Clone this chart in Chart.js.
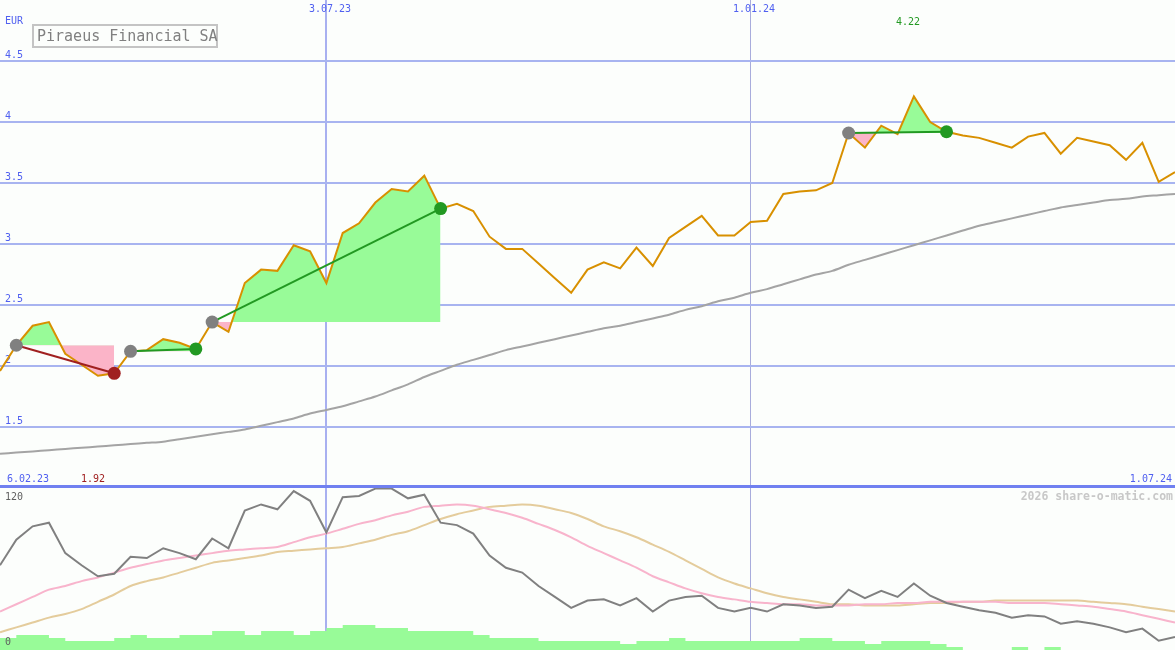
<!DOCTYPE html>
<html>
<head>
<meta charset="utf-8">
<script src="https://cdn.jsdelivr.net/npm/chart.js@4.4.1/dist/chart.umd.min.js"></script>
<style>
  body { margin: 0; background: #fcfefc; }
  #wrap { position: relative; width: 1175px; height: 650px; overflow: hidden; background: #fcfefc; font-family: 'DejaVu Sans Mono', monospace; }
  canvas { position: absolute; left: 0; }
  #priceChart { top: 0; }
  #oscChart { top: 488px; }
  .lbl { position: absolute; font-size: 10px; line-height: 12px; height: 12px; white-space: nowrap; color: #5060f0; }
  .mid { transform: translateX(-50%); }
  .right { transform: translateX(-100%); }
  #title { position: absolute; left: 32px; top: 24px; width: 186px; height: 24px; box-sizing: border-box; border: 2px solid #c4c4c4; color: #808080; font-size: 15px; line-height: 20px; padding-left: 3px; white-space: nowrap; }
</style>
</head>
<body>
<div id="wrap">
  <canvas id="priceChart" width="1175" height="488"></canvas>
  <canvas id="oscChart" width="1175" height="162"></canvas>
  <div id="title">Piraeus Financial SA</div>
  <div class="lbl" style="left:5px;top:15px">EUR</div>
  <div class="lbl mid" style="left:330px;top:3px">3.07.23</div>
  <div class="lbl mid" style="left:754px;top:3px">1.01.24</div>
  <div class="lbl mid" style="left:908px;top:16px;color:#229922">4.22</div>
  <div class="lbl" style="left:7px;top:473px">6.02.23</div>
  <div class="lbl mid" style="left:93px;top:473px;color:#a02020">1.92</div>
  <div class="lbl right" style="left:1172px;top:473px">1.07.24</div>
  <div class="lbl" style="left:5px;top:491px;color:#606060">120</div>
  <div class="lbl" style="left:5px;top:636px;color:#606060">0</div>
  <div class="lbl right" style="left:1173px;top:490px;color:#c8c8c8;font-size:11.5px;font-weight:bold">2026 share-o-matic.com</div>
</div>
<script>
// weekly closing prices (EUR)
const prices = [1.96, 2.17, 2.33, 2.36, 2.10, 2.01, 1.92, 1.94, 2.12, 2.13,
  2.22, 2.19, 2.14, 2.36, 2.28, 2.68, 2.79, 2.78, 2.99, 2.94,
  2.68, 3.09, 3.17, 3.34, 3.45, 3.43, 3.56, 3.29, 3.33, 3.27,
  3.06, 2.96, 2.96, 2.84, 2.72, 2.60, 2.79, 2.85, 2.80, 2.97,
  2.82, 3.05, 3.14, 3.23, 3.07, 3.07, 3.18, 3.19, 3.41, 3.43,
  3.44, 3.50, 3.91, 3.79, 3.97, 3.90, 4.21, 4.00, 3.92, 3.89,
  3.87, 3.83, 3.79, 3.88, 3.91, 3.74, 3.87, 3.84, 3.81, 3.69,
  3.83, 3.51, 3.59]

// long moving average (grey)
const longAvg = [1.28, 1.29, 1.30, 1.31, 1.32, 1.33, 1.34, 1.35, 1.36, 1.37,
  1.38, 1.40, 1.42, 1.44, 1.46, 1.48, 1.51, 1.54, 1.57, 1.61,
  1.64, 1.67, 1.71, 1.75, 1.80, 1.85, 1.91, 1.96, 2.01, 2.05,
  2.09, 2.13, 2.16, 2.19, 2.22, 2.25, 2.28, 2.31, 2.33, 2.36,
  2.39, 2.42, 2.46, 2.49, 2.53, 2.56, 2.60, 2.63, 2.67, 2.71,
  2.75, 2.78, 2.83, 2.87, 2.91, 2.95, 2.99, 3.03, 3.07, 3.11,
  3.15, 3.18, 3.21, 3.24, 3.27, 3.30, 3.32, 3.34, 3.36, 3.37,
  3.39, 3.40, 3.41]

// lower panel indicators
const oscMain = [68, 89, 100, 103, 78, 68, 59, 61, 75, 74,
  82, 78, 73, 90, 82, 113, 118, 114, 129, 121,
  95, 124, 125, 131, 131, 123, 126, 103, 101, 94,
  76, 66, 62, 51, 42, 33, 39, 40, 35, 41,
  30, 39, 42, 43, 33, 30, 33, 30, 36, 35,
  33, 34, 48, 41, 47, 42, 53, 43, 37, 34,
  31, 29, 25, 27, 26, 20, 22, 20, 17, 13,
  16, 6, 9]
const oscPink = [30, 36, 42, 48, 51, 55, 58, 62, 66, 69,
  72, 74, 76, 78, 80, 81, 82, 83, 87, 91,
  94, 98, 102, 105, 109, 112, 116, 117, 118, 117,
  114, 111, 107, 102, 97, 91, 84, 78, 72, 66,
  59, 54, 49, 45, 42, 40, 38, 37, 36, 36,
  35, 35, 35, 36, 36, 37, 37, 38, 38, 38,
  38, 38, 37, 37, 37, 36, 35, 34, 32, 30,
  27, 24, 21]
const oscTan = [13, 17, 21, 25, 28, 32, 38, 44, 51, 55,
  58, 62, 66, 70, 72, 74, 76, 79, 80, 81,
  82, 83, 86, 89, 93, 96, 101, 106, 110, 113,
  116, 117, 118, 117, 114, 111, 106, 100, 96, 91,
  85, 79, 72, 65, 58, 53, 49, 45, 42, 40,
  38, 36, 36, 35, 35, 35, 36, 37, 37, 38,
  38, 39, 39, 39, 39, 39, 39, 38, 37, 36,
  34, 32, 30]
const volume = [9, 12, 15, 15, 12, 9, 9, 9, 12, 15,
  12, 12, 15, 15, 19, 19, 15, 19, 19, 15,
  19, 22, 25, 25, 22, 22, 19, 19, 19, 19,
  15, 12, 12, 12, 9, 9, 9, 9, 9, 6,
  9, 9, 12, 9, 9, 9, 9, 9, 9, 9,
  12, 12, 9, 9, 6, 9, 9, 9, 6, 3,
  0, 0, 0, 3, 0, 3, 0, 0, 0, 0,
  0, 0, 0]

// trades: week index of buy and sell
const buyIdx = [1, 8, 13, 52]
const sellIdx = [7, 12, 27, 58]

// vertical date lines and their width
const gridDates = ['3.07.23', '1.01.24']
const gridWidths = [2, 1]

const GREEN = '#229922'
const RED = '#a02020'

// weekly labels starting 13.02.23
const labels = []
let d = new Date(2023, 1, 13)
for (let i = 0; i < prices.length; i++) {
    labels.push(d.getDate() + '.' + String(d.getMonth() + 1).padStart(2, '0') + '.' + String(d.getFullYear()).slice(2))
    d.setDate(d.getDate() + 7)
}

const xGrid = () => ({
    type: 'category',
    display: true,
    afterFit: (s) => { s.height = 0; s.paddingLeft = 0; s.paddingRight = 0 },
    ticks: { display: false, autoSkip: false },
    border: { display: false },
    grid: {
        drawTicks: false,
        offset: false,
        color: (ctx) => {
            const k = gridDates.indexOf(labels[ctx.index])
            if (k < 0) return 'transparent'
            return k === 0 ? '#a8b0f0' : '#a8acdc'
        },
        lineWidth: (ctx) => {
            const k = gridDates.indexOf(labels[ctx.index])
            return k < 0 ? 0 : gridWidths[k]
        }
    }
})

// trade fills, lines and markers
const tradeSets = []
buyIdx.forEach((b, k) => {
    const s = sellIdx[k]
    const entry = prices[b]
    tradeSets.push({
        data: prices.map((p, i) => (i >= b && i <= s) ? p : null),
        borderWidth: 0,
        pointRadius: 0,
        fill: { target: { value: entry }, above: '#98fb98', below: '#fbb4c8' },
        order: 5
    })
    tradeSets.push({
        data: prices.map((p, i) => (i === b || i === s) ? p : null),
        spanGaps: true,
        borderColor: prices[s] >= entry ? GREEN : RED,
        borderWidth: 2,
        pointRadius: 0,
        order: 1
    })
})

const markerColors = prices.map((p, i) => {
    if (buyIdx.includes(i)) return '#808080'
    const k = sellIdx.indexOf(i)
    if (k < 0) return 'transparent'
    return p >= prices[buyIdx[k]] ? GREEN : RED
})

new Chart(document.getElementById('priceChart'), {
    type: 'line',
    data: {
        labels: labels,
        datasets: [
            {
                data: prices.map((p, i) => (buyIdx.includes(i) || sellIdx.includes(i)) ? p : null),
                showLine: false,
                pointRadius: 6.5,
                pointBorderWidth: 0,
                pointBackgroundColor: markerColors,
                order: 0
            },
            ...tradeSets,
            {
                data: prices,
                borderColor: '#d89000',
                borderWidth: 2,
                pointRadius: 0,
                tension: 0,
                order: 2
            },
            {
                data: longAvg,
                borderColor: '#a4a4a4',
                borderWidth: 2,
                pointRadius: 0,
                tension: 0.3,
                order: 3
            }
        ]
    },
    options: {
        responsive: false,
        animation: false,
        devicePixelRatio: 1,
        layout: { padding: 0, autoPadding: false },
        plugins: { legend: { display: false }, tooltip: { enabled: false } },
        scales: {
            x: xGrid(),
            y: {
                min: 1,
                max: 5,
                afterFit: (s) => { s.width = 0; s.paddingTop = 0; s.paddingBottom = 0 },
                border: { display: false },
                ticks: {
                    stepSize: 0.5,
                    mirror: true,
                    padding: 5,
                    labelOffset: -6,
                    color: '#5060f0',
                    font: { family: 'DejaVu Sans Mono', size: 10 },
                    callback: (v) => (v > 1 && v < 5) ? String(v) : ''
                },
                grid: {
                    drawTicks: false,
                    color: (ctx) => ctx.tick.value === 1 ? '#7080f0' : (ctx.tick.value === 5 ? 'transparent' : '#a8b4f0'),
                    lineWidth: (ctx) => ctx.tick.value === 1 ? 7 : 2
                }
            }
        }
    }
})

new Chart(document.getElementById('oscChart'), {
    type: 'line',
    data: {
        labels: labels,
        datasets: [
            { data: oscMain, borderColor: '#808080', borderWidth: 2, pointRadius: 0, order: 0 },
            { data: oscPink, borderColor: '#f8b4cc', borderWidth: 2, pointRadius: 0, tension: 0.3, order: 1 },
            { data: oscTan, borderColor: '#e4cc9c', borderWidth: 2, pointRadius: 0, tension: 0.3, order: 2 },
            {
                data: volume,
                yAxisID: 'yv',
                stepped: 'after',
                borderWidth: 0,
                pointRadius: 0,
                backgroundColor: '#98fb98',
                fill: 'start',
                order: 3
            }
        ]
    },
    options: {
        responsive: false,
        animation: false,
        devicePixelRatio: 1,
        layout: { padding: 0, autoPadding: false },
        plugins: { legend: { display: false }, tooltip: { enabled: false } },
        scales: {
            x: xGrid(),
            y: { display: false, min: -1.6, max: 131.5 },
            yv: { display: false, min: 0, max: 162 }
        }
    }
})
</script>
</body>
</html>
